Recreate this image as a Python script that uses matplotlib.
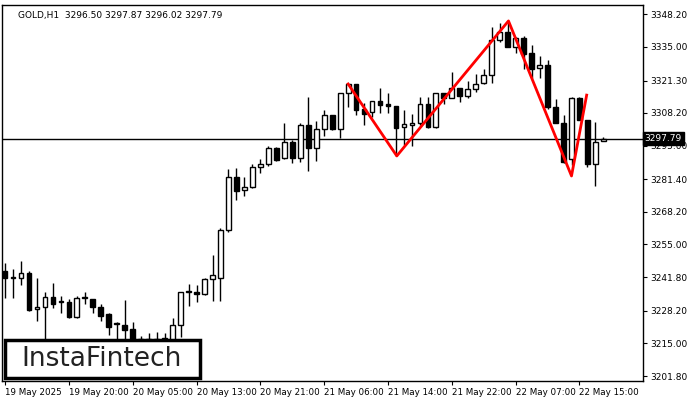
import matplotlib.pyplot as plt
from matplotlib.patches import Rectangle

# GOLD H1 candles
opens = [3244.3, 3241.4, 3241.4, 3243.5, 3228.9, 3229.7, 3233.8, 3231.7, 3231.7, 3225.7,
         3233.4, 3232.9, 3229.7, 3226.9, 3222.8, 3222.4, 3220.8, 3214.8, 3216.8, 3216.4,
         3215.6, 3216.4, 3222.4, 3235.8, 3235.8, 3235.0, 3241.0, 3241.4, 3260.9, 3282.3,
         3277.0, 3278.2, 3286.3, 3287.5, 3294.0, 3290.0, 3296.4, 3290.0, 3303.3, 3294.0,
         3301.7, 3307.4, 3301.7, 3316.3, 3319.9, 3309.8, 3308.6, 3313.0, 3311.8, 3311.0,
         3302.5, 3303.3, 3304.1, 3311.8, 3302.5, 3316.3, 3314.2, 3318.3, 3315.0, 3317.9,
         3320.3, 3323.5, 3337.7, 3340.9, 3334.9, 3338.5, 3332.4, 3326.4, 3327.6, 3310.6,
         3304.1, 3289.6, 3314.2, 3305.3, 3287.5, 3296.8]
highs = [3247.5, 3245.1, 3248.3, 3244.3, 3241.4, 3235.8, 3239.4, 3234.2, 3232.9, 3234.2,
         3235.8, 3232.9, 3230.9, 3227.3, 3223.6, 3232.5, 3223.6, 3218.0, 3219.2, 3219.6,
         3219.2, 3225.3, 3235.8, 3239.0, 3238.6, 3241.4, 3250.7, 3261.7, 3285.5, 3285.9,
         3282.3, 3287.5, 3289.6, 3294.8, 3294.4, 3304.1, 3297.2, 3304.1, 3314.6, 3304.9,
         3309.4, 3307.4, 3316.3, 3319.9, 3319.9, 3312.2, 3313.0, 3318.3, 3316.3, 3311.0,
         3309.4, 3307.8, 3314.6, 3314.6, 3316.3, 3316.3, 3324.7, 3318.3, 3321.1, 3323.9,
         3326.0, 3342.9, 3344.6, 3345.0, 3338.9, 3339.3, 3335.7, 3331.2, 3329.6, 3313.8,
         3307.4, 3314.6, 3314.6, 3305.3, 3304.5, 3298.5]
lows = [3233.4, 3233.4, 3238.6, 3228.1, 3224.1, 3214.3, 3229.3, 3227.3, 3225.3, 3225.3,
        3230.9, 3227.3, 3224.1, 3218.4, 3216.4, 3216.4, 3214.3, 3212.3, 3214.3, 3213.9,
        3213.1, 3215.6, 3217.6, 3230.1, 3231.7, 3234.6, 3232.1, 3232.1, 3260.0, 3273.0,
        3274.6, 3277.8, 3283.9, 3286.7, 3288.8, 3289.6, 3287.9, 3288.4, 3284.7, 3288.8,
        3298.9, 3301.3, 3298.1, 3310.6, 3307.4, 3303.3, 3306.6, 3308.2, 3308.2, 3290.8,
        3295.2, 3294.8, 3303.3, 3302.1, 3302.1, 3311.8, 3314.2, 3312.6, 3314.2, 3316.7,
        3319.9, 3320.3, 3336.9, 3334.9, 3332.4, 3326.0, 3322.3, 3322.3, 3309.8, 3304.1,
        3287.9, 3287.1, 3305.3, 3286.3, 3278.6, 3297.7]
closes = [3241.4, 3241.4, 3243.5, 3228.5, 3229.7, 3233.8, 3230.9, 3231.7, 3225.7, 3233.4,
          3233.4, 3229.7, 3226.1, 3221.6, 3222.8, 3220.4, 3215.6, 3216.8, 3216.4, 3216.8,
          3217.2, 3222.4, 3235.8, 3235.8, 3235.0, 3241.0, 3242.7, 3260.9, 3282.3, 3276.6,
          3278.2, 3286.3, 3287.5, 3294.0, 3289.2, 3296.4, 3290.0, 3303.3, 3294.0, 3301.7,
          3307.4, 3301.7, 3316.3, 3319.9, 3309.4, 3307.8, 3313.0, 3311.4, 3311.0, 3302.1,
          3303.7, 3304.1, 3311.8, 3302.5, 3316.3, 3314.2, 3318.3, 3315.0, 3317.9, 3319.9,
          3323.5, 3337.7, 3340.9, 3334.9, 3338.5, 3332.0, 3326.0, 3327.6, 3310.6, 3304.1,
          3288.4, 3314.2, 3305.3, 3287.5, 3296.4, 3297.7]

# double-top style pattern drawn in red
pattern_x = [43, 49.1, 63.1, 71, 72.9]
pattern_y = [3319.9, 3290.8, 3345.4, 3282.7, 3315.4]

last_price = 3297.79
y_ticks = [3348.20, 3335.00, 3321.30, 3308.20, 3295.00, 3281.40, 3268.20,
           3255.00, 3241.80, 3228.20, 3215.00, 3201.80]
x_tick_pos = [0, 8, 16, 24, 32, 40, 48, 56, 64, 72]
x_tick_labels = ['19 May 2025', '19 May 20:00', '20 May 05:00', '20 May 13:00',
                 '20 May 21:00', '21 May 06:00', '21 May 14:00', '21 May 22:00',
                 '22 May 07:00', '22 May 15:00']

fig = plt.figure(figsize=(7, 4), dpi=100)
ax = fig.add_axes([0.003, 0.0475, 0.916, 0.94])

w = 0.6
for i, (o, h, l, c) in enumerate(zip(opens, highs, lows, closes)):
    ax.vlines(i, l, h, color='black', lw=1, zorder=2)
    bottom = min(o, c)
    height = max(abs(c - o), 0.25)
    face = 'white' if c >= o else 'black'
    ax.add_patch(Rectangle((i - w / 2, bottom), w, height, facecolor=face,
                           edgecolor='black', lw=1, zorder=3))

ax.axhline(last_price, color='black', lw=1, zorder=1)
ax.plot(pattern_x, pattern_y, color='red', lw=2, zorder=4)

ax.set_xlim(-0.375, 80)
ax.set_ylim(3199.79, 3351.84)
ax.yaxis.tick_right()
ax.set_yticks(y_ticks)
ax.set_yticklabels([f'{v:.2f}' for v in y_ticks], fontsize=6.5)
ax.set_xticks(x_tick_pos)
ax.set_xticklabels(x_tick_labels, fontsize=6.3, ha='left')
ax.tick_params(length=3, pad=2)
for s in ax.spines.values():
    s.set_linewidth(1)

ax.text(1.002, (last_price - 3199.79) / (3351.84 - 3199.79), f'{last_price:.2f}',
        transform=ax.transAxes, fontsize=6.5, color='white', va='center', ha='left',
        bbox=dict(boxstyle='square,pad=0.2', facecolor='black', edgecolor='black'))

ax.text(0.025, 0.985, 'GOLD,H1  3296.50 3297.87 3296.02 3297.79', transform=ax.transAxes,
        fontsize=6.5, va='top', ha='left')

# logo box
fig.patches.append(Rectangle((5 / 700, 22 / 400), 195 / 700, 38 / 400, transform=fig.transFigure,
                             facecolor='white', edgecolor='black', lw=2.5, zorder=10))
fig.text(102 / 700, 41 / 400, 'InstaFintech', fontsize=19, ha='center', va='center',
         color='#222222', zorder=11)

fig.savefig('out.png', dpi=100)
